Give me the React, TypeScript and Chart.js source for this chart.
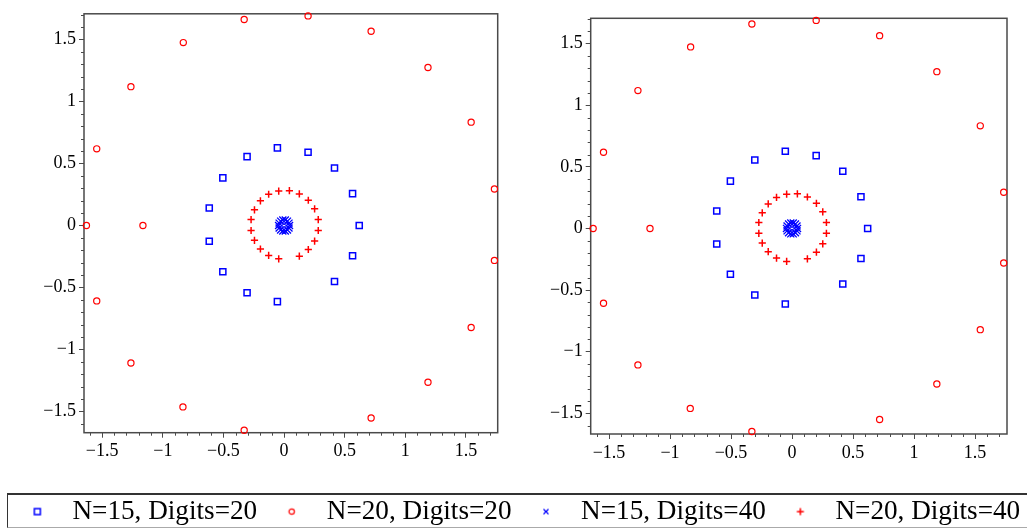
import React, { useEffect, useRef } from 'react';
import { Chart, registerables } from 'chart.js';

Chart.register(...registerables);

// ---- axis ranges and ticks ----
const X_MIN = -1.65;
const X_MAX = 1.762;
const Y_MIN = -1.669;
const Y_MAX = 1.706;
const TICK_VALUES = [-1.5, -1, -0.5, 0, 0.5, 1, 1.5];
const TICK_LABELS = ['\u22121.5', '\u22121', '\u22120.5', '0', '0.5', '1', '1.5'];

// ---- series ----
const SERIES_LABELS = ['N=15, Digits=20', 'N=20, Digits=20', 'N=15, Digits=40', 'N=20, Digits=40'];

const N15_D20_X = [-0.055, 0.198, 0.416, 0.565, 0.62, 0.565, 0.416, -0.055, -0.305, -0.505, -0.617, -0.617, -0.505, -0.305];
const N15_D20_Y = [0.626, 0.591, 0.464, 0.257, 0.0, -0.244, -0.451, -0.613, -0.541, -0.372, -0.127, 0.141, 0.384, 0.555];

const N20_D20_X = [-1.63, -1.164, -1.545, -1.263, -0.831, -0.329, 0.198, 0.718, 1.187, 1.543, 1.735, 1.735, 1.543, 1.187, 0.718, -0.329, -0.834, -1.263, -1.545];
const N20_D20_Y = [0.0, 0.0, 0.618, 1.119, 1.474, 1.66, 1.689, 1.565, 1.273, 0.833, 0.294, -0.281, -0.822, -1.263, -1.551, -1.649, -1.461, -1.108, -0.607];

const N15_D40_X = [0.045, 0.0405, 0.0281, 0.01, -0.01, -0.0281, -0.0405, -0.045, -0.0405, -0.0281, -0.01, 0.01, 0.0281, 0.0405];
const N15_D40_Y = [0.0, 0.0195, 0.0352, 0.0439, 0.0439, 0.0352, 0.0195, 0.0, -0.0195, -0.0352, -0.0439, -0.0439, -0.0352, -0.0195];

const N20_D40_X = [-0.044, 0.044, 0.126, 0.2, 0.252, 0.282, 0.282, 0.252, 0.2, 0.126, -0.044, -0.127, -0.195, -0.244, -0.272, -0.272, -0.244, -0.195, -0.127];
const N20_D40_Y = [0.278, 0.281, 0.255, 0.204, 0.135, 0.048, -0.04, -0.125, -0.193, -0.247, -0.268, -0.241, -0.189, -0.119, -0.04, 0.048, 0.127, 0.199, 0.252];

const SERIES_X = [N15_D20_X, N20_D20_X, N15_D40_X, N20_D40_X];
const SERIES_Y = [N15_D20_Y, N20_D20_Y, N15_D40_Y, N20_D40_Y];
const SERIES_COLORS = ['#0000ff', '#ff0000', '#0000ff', '#ff0000'];
const SERIES_STYLES = ['rect', 'circle', 'crossRot', 'cross'];
const SERIES_RADIUS = [4.3, 3.1, 5, 3.6];
const SERIES_WIDTH = [1.5, 1.2, 1.3, 1.5];

const FONT_FAMILY = "'Liberation Serif', 'Times New Roman', serif";
const AXIS_COLOR = '#4a4a4a';

function makeDatasets() {
  return SERIES_LABELS.map((label, i) => ({
    label,
    data: SERIES_X[i].map((x, j) => ({ x, y: SERIES_Y[i][j] })),
    pointStyle: SERIES_STYLES[i],
    pointRadius: SERIES_RADIUS[i],
    pointBorderColor: SERIES_COLORS[i],
    borderColor: SERIES_COLORS[i],
    pointBackgroundColor: 'rgba(0,0,0,0)',
    backgroundColor: 'rgba(0,0,0,0)',
    pointBorderWidth: SERIES_WIDTH[i],
    borderWidth: SERIES_WIDTH[i],
    showLine: false,
    clip: false as any,
  }));
}

const framePlugin = {
  id: 'frameBox',
  beforeDatasetsDraw(chart: any) {
    const { ctx, chartArea: a } = chart;
    ctx.save();
    ctx.strokeStyle = AXIS_COLOR;
    ctx.lineWidth = 1.5;
    ctx.strokeRect(a.left, a.top, a.right - a.left, a.bottom - a.top);
    ctx.restore();
  },
};

const minorTickPlugin = {
  id: 'minorTicks',
  afterDraw(chart: any) {
    const { ctx, chartArea: a } = chart;
    const xs = chart.scales.x;
    const ys = chart.scales.y;
    ctx.save();
    ctx.strokeStyle = AXIS_COLOR;
    ctx.lineWidth = 1;
    ctx.beginPath();
    for (let k = Math.ceil(xs.min * 10); k <= Math.floor(xs.max * 10); k++) {
      if (k % 5 === 0) continue;
      const px = Math.round(xs.getPixelForValue(k / 10)) + 0.5;
      ctx.moveTo(px, a.bottom);
      ctx.lineTo(px, a.bottom + 3);
    }
    for (let k = Math.ceil(ys.min * 10); k <= Math.floor(ys.max * 10); k++) {
      if (k % 5 === 0) continue;
      const py = Math.round(ys.getPixelForValue(k / 10)) + 0.5;
      ctx.moveTo(a.left, py);
      ctx.lineTo(a.left - 3, py);
    }
    ctx.stroke();
    ctx.restore();
  },
};

function axisOptions(min: number, max: number, fit: (s: any) => void) {
  return {
    type: 'linear' as const,
    min,
    max,
    afterBuildTicks: (s: any) => {
      s.ticks = TICK_VALUES.map((v) => ({ value: v }));
    },
    afterFit: fit,
    ticks: {
      autoSkip: false,
      maxRotation: 0,
      minRotation: 0,
      padding: 3,
      color: '#000',
      font: { family: FONT_FAMILY, size: 18 },
      callback: (v: any) => {
        const idx = TICK_VALUES.findIndex((t) => Math.abs(t - Number(v)) < 1e-9);
        return idx >= 0 ? TICK_LABELS[idx] : '';
      },
    },
    grid: {
      display: true,
      drawOnChartArea: false,
      drawTicks: true,
      tickLength: 5,
      tickColor: AXIS_COLOR,
      tickWidth: 1,
    },
    border: { display: false },
  };
}

type Area = { l: number; t: number; r: number; b: number };

function PlotPanel(props: { left: number; top: number; width: number; height: number; area: Area }) {
  const { left, top, width, height, area } = props;
  const ref = useRef<HTMLCanvasElement>(null);
  useEffect(() => {
    const chart = new Chart(ref.current as HTMLCanvasElement, {
      type: 'scatter',
      data: { datasets: makeDatasets() as any },
      options: {
        responsive: false,
        animation: false,
        devicePixelRatio: 1,
        events: [],
        layout: {
          padding: { left: 0, top: area.t - top, right: left + width - area.r, bottom: 0 },
        },
        plugins: {
          legend: { display: false },
          tooltip: { enabled: false },
        },
        scales: {
          x: axisOptions(X_MIN, X_MAX, (s: any) => {
            s.height = top + height - area.b;
          }) as any,
          y: axisOptions(Y_MIN, Y_MAX, (s: any) => {
            s.width = area.l - left;
          }) as any,
        },
      },
      plugins: [framePlugin, minorTickPlugin],
    });
    return () => chart.destroy();
  }, []);
  return (
    <canvas
      ref={ref}
      width={width}
      height={height}
      style={{ position: 'absolute', left, top, width, height }}
    />
  );
}

function makeMarker(i: number): HTMLCanvasElement {
  const c = document.createElement('canvas');
  c.width = 12;
  c.height = 12;
  const g = c.getContext('2d') as CanvasRenderingContext2D;
  g.strokeStyle = SERIES_COLORS[i];
  g.beginPath();
  const style = SERIES_STYLES[i];
  if (style === 'rect') {
    g.lineWidth = 1.5;
    g.rect(3, 3, 6, 6);
  } else if (style === 'circle') {
    g.lineWidth = 1.2;
    g.arc(6, 6, 2.7, 0, Math.PI * 2);
  } else if (style === 'crossRot') {
    g.lineWidth = 1.2;
    g.moveTo(3.5, 3.5);
    g.lineTo(8.5, 8.5);
    g.moveTo(8.5, 3.5);
    g.lineTo(3.5, 8.5);
  } else {
    g.lineWidth = 1.5;
    g.moveTo(2.5, 6);
    g.lineTo(9.5, 6);
    g.moveTo(6, 2.5);
    g.lineTo(6, 9.5);
  }
  g.stroke();
  return c;
}

function LegendPanel(props: { left: number; top: number; width: number; height: number }) {
  const { left, top, width, height } = props;
  const ref = useRef<HTMLCanvasElement>(null);
  useEffect(() => {
    const markers = SERIES_LABELS.map((_, i) => makeMarker(i));
    const chart = new Chart(ref.current as HTMLCanvasElement, {
      type: 'scatter',
      data: {
        datasets: SERIES_LABELS.map((label, i) => ({
          label,
          data: [],
          borderColor: SERIES_COLORS[i],
          pointStyle: SERIES_STYLES[i],
        })) as any,
      },
      options: {
        responsive: false,
        animation: false,
        devicePixelRatio: 1,
        events: [],
        layout: { padding: 0 },
        scales: {
          x: { display: false },
          y: { display: false },
        },
        plugins: {
          tooltip: { enabled: false },
          legend: {
            display: true,
            position: 'top',
            align: 'center',
            labels: {
              usePointStyle: true,
              pointStyleWidth: 43,
              boxHeight: 10,
              padding: 13,
              color: '#000',
              font: { family: FONT_FAMILY, size: 27.2 },
              generateLabels: () =>
                SERIES_LABELS.map((text, i) => ({
                  text,
                  pointStyle: markers[i] as any,
                  fillStyle: 'rgba(0,0,0,0)',
                  strokeStyle: SERIES_COLORS[i],
                  lineWidth: 0,
                  hidden: false,
                  datasetIndex: i,
                })) as any,
            },
          },
        },
      },
    });
    return () => chart.destroy();
  }, []);
  return (
    <canvas
      ref={ref}
      width={width}
      height={height}
      style={{ position: 'absolute', left, top, width, height }}
    />
  );
}

export default function App() {
  return (
    <div
      style={{
        position: 'fixed',
        left: 0,
        top: 0,
        width: 1027,
        height: 530,
        overflow: 'hidden',
        background: '#ffffff',
      }}
    >
      <PlotPanel left={0} top={0} width={510} height={470} area={{ l: 84, t: 9, r: 497.7, b: 432.7 }} />
      <PlotPanel left={510} top={0} width={517} height={470} area={{ l: 590.7, t: 18.3, r: 1007, b: 434 }} />
      <div
        style={{
          position: 'absolute',
          left: 7,
          top: 493,
          width: 1045,
          height: 35,
          boxSizing: 'border-box',
          borderTop: '2px solid #333',
          borderLeft: '1.5px solid #333',
          borderBottom: '1px solid #aaa',
        }}
      />
      <LegendPanel left={0} top={485} width={1036} height={130} />
    </div>
  );
}
